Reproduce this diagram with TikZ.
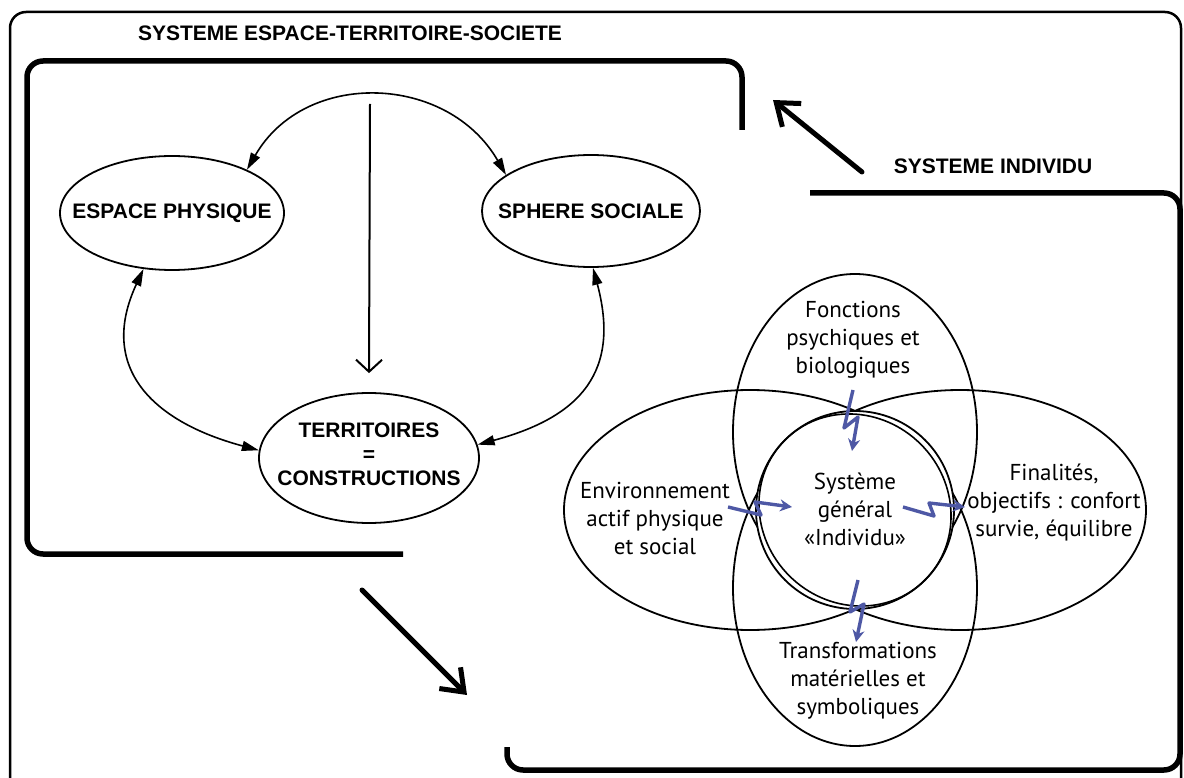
\documentclass[tikz,border=0pt]{standalone}
\usepackage{fontspec}
\setmainfont{Liberation Sans}
\newfontfamily\ptsans{PT Sans}
\usetikzlibrary{arrows.meta,shapes.geometric}
\definecolor{boltblue}{RGB}{78,88,165}
\tikzset{
  bigbox/.style={line width=5.5pt,rounded corners=16pt},
  heading/.style={font=\fontsize{21}{24}\selectfont\bfseries,align=center},
  oval/.style={draw,ellipse,line width=1.8pt,inner sep=0pt},
  zone/.style={draw,ellipse,line width=1.8pt,inner sep=0pt},
  venntext/.style={font=\ptsans\fontsize{23}{28}\selectfont,align=center},
  tri/.style={{Triangle[length=17pt,width=10pt]}-{Triangle[length=17pt,width=10pt]},line width=1.6pt},
  bigarrow/.style={line width=5pt,line cap=round,-{Straight Barb[length=20pt,width=30pt]}},
  bolt/.style={draw=boltblue,line width=3.4pt,line join=round,-{Stealth[length=12pt,width=12pt]}}
}
\begin{document}
\begin{tikzpicture}[x=1pt,y=-1pt]
\clip (0,0) rectangle (1184,778);
\fill[white] (0,0) rectangle (1184,778);
% frames
\draw[line width=2.5pt,rounded corners=16pt] (10,800) -- (10,12) -- (1181,12) -- (1181,800);
\draw[bigbox] (403,554) -- (27,554) -- (27,61) -- (742,61) -- (742,130);
\draw[bigbox] (810,193) -- (1180,193) -- (1180,770) -- (507,770) -- (507,747);
\node[heading](titleest) at (350,33) {SYSTEME ESPACE-TERRITOIRE-SOCIETE};
\node[heading](titleind) at (993,166) {SYSTEME INDIVIDU};
% espace - territoire - societe
\node[oval,minimum width=224pt,minimum height=114pt](esp) at (172,213) {};
\node[oval,minimum width=218pt,minimum height=112pt](soc) at (591,211) {};
\node[oval,minimum width=220pt,minimum height=130pt](terr) at (369,458) {};
\node[heading](esptext) at (esp) {ESPACE PHYSIQUE};
\node[heading](soctext) at (soc) {SPHERE SOCIALE};
\node[heading](terrtext) at ([yshift=4pt]terr.center) {TERRITOIRES\\=\\CONSTRUCTIONS};
\path[tri]
(esp.30) edge[out=60,in=120,looseness=1.15] (soc.157)
(esp.243) edge[out=-115,in=165,looseness=1.3] (terr.176)
(soc.272) edge[out=-75,in=15,looseness=1.3] (terr.7);
\coordinate(vtop) at (370,104);
\draw[line width=2pt,-{Straight Barb[length=12pt,width=26pt]}] (vtop) -- ([yshift=19pt]terr.north);
% links between the two systems
\coordinate(upfrom) at (862,172);
\coordinate(upto) at (773,100);
\coordinate(downfrom) at (362,590);
\coordinate(downto) at (467,695);
\draw[bigarrow] (upfrom) -- (upto);
\draw[bigarrow] (downfrom) -- (downto);
% individu
\node[zone,minimum width=372pt,minimum height=240pt](env) at (750,510) {};
\node[zone,minimum width=372pt,minimum height=240pt](fin) at (960,510) {};
\node[zone,minimum width=244pt,minimum height=316pt](fonc) at (855,432) {};
\node[zone,minimum width=244pt,minimum height=316pt](transf) at (855,588) {};
\node[zone,circle,fill=white,minimum size=198pt](indiv) at (855,510) {};
\draw[line width=1.6pt,rotate around={-45:(indiv)}] (indiv) ellipse (99 and 93);
\node[venntext](fonctext) at (853,340) {Fonctions\\psychiques et\\biologiques};
\node[venntext](indivtext) at (855,509) {Système\\général\\«Individu»};
\node[venntext](envtext) at (655,518) {Environnement\\actif physique\\et social};
\node[venntext](fintext) at (1054,503) {Finalités,\\objectifs : confort\\survie, équilibre};
\node[venntext](transftext) at (858,681) {Transformations\\matérielles et\\symboliques};
\coordinate(b1) at (853,390); \coordinate(b2) at (852,451);
\coordinate(b3) at (728,507); \coordinate(b4) at (792,507);
\coordinate(b5) at (903,507); \coordinate(b6) at (965,507);
\coordinate(b7) at (858,580); \coordinate(b8) at (856,642);
\draw[bolt] (b1) -- ++(-9,38) -- ++(14,-11) -- (b2);
\draw[bolt] (b3) -- ++(33,8) -- ++(-6,-13) -- (b4);
\draw[bolt] (b5) -- ++(31,9) -- ++(-5,-13) -- (b6);
\draw[bolt] (b7) -- ++(-8,32) -- ++(14,-8) -- (b8);
\end{tikzpicture}
\end{document}
